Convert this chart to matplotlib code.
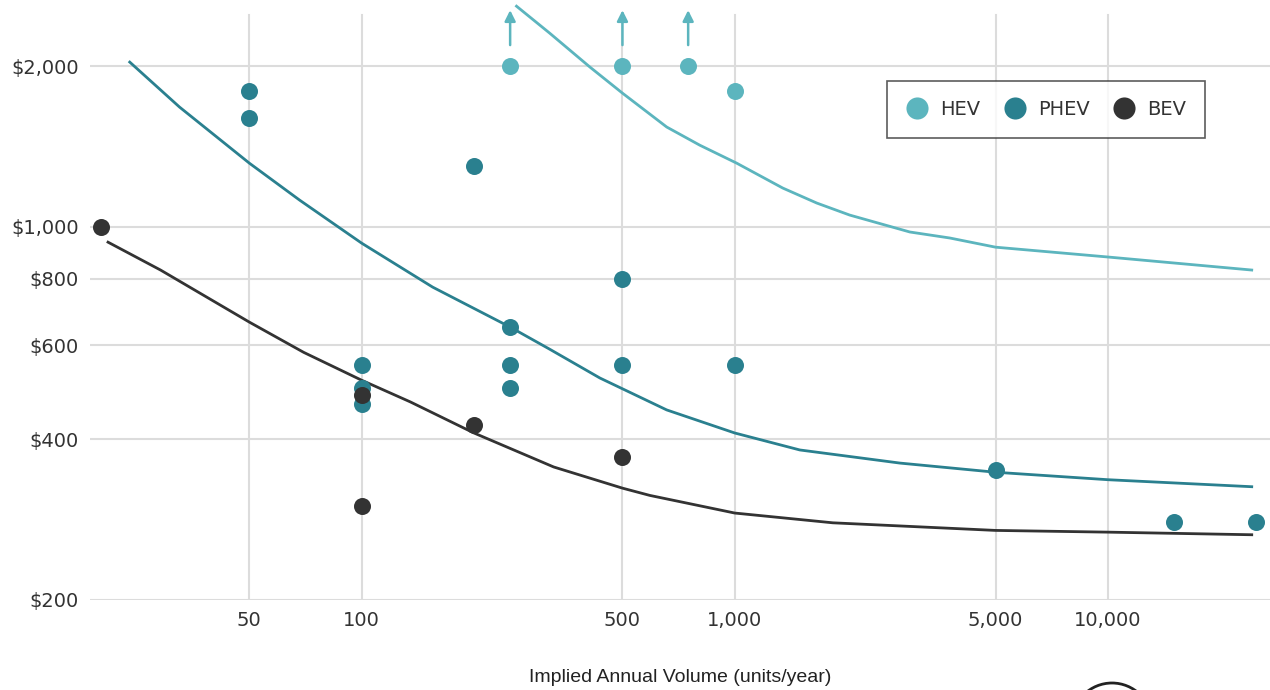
import matplotlib
matplotlib.use('agg')
import matplotlib.pyplot as plt
from matplotlib.ticker import FixedLocator, NullLocator
from matplotlib.patches import Ellipse

# scatter data (volume, cost per unit)
hev_x = [250, 500, 750, 1000]
hev_y = [2000, 2000, 2000, 1800]
hev_arrow_x = [250, 500, 750]

phev_x = [50, 50, 200, 100, 100, 100, 250, 250, 250, 500, 500, 1000, 5000, 15000, 25000]
phev_y = [1800, 1600, 1300, 550, 500, 465, 650, 550, 500, 800, 550, 550, 350, 280, 280]

bev_x = [20, 100, 100, 200, 500]
bev_y = [1000, 484, 300, 425, 371]

# fitted curves
hev_fit_x = [260, 319, 409, 500, 657, 806, 1012, 1345, 1659, 2033, 2946, 3770, 5000, 10000, 24300]
hev_fit_y = [2590, 2306, 1992, 1780, 1538, 1422, 1316, 1182, 1108, 1052, 978, 953, 916, 878, 830]

phev_fit_x = [23.9, 32.5, 50, 68.2, 100, 155, 250, 319, 435, 657, 1000, 1494, 2770, 5000, 10000, 24300]
phev_fit_y = [2035, 1676, 1316, 1122, 932, 771, 649, 590, 521, 454, 411, 382, 361, 347, 336, 326]

bev_fit_x = [20.9, 28.9, 50, 69.9, 100, 135, 200, 327, 500, 592, 1000, 1832, 5000, 10000, 24300]
bev_fit_y = [936, 830, 663, 582, 516, 470, 411, 355, 324, 314, 291, 279, 270, 268, 265]

x_ticks = [50, 100, 500, 1000, 5000, 10000]
x_labels = ["50", "100", "500", "1,000", "5,000", "10,000"]
y_ticks = [200, 400, 600, 800, 1000, 2000]
y_labels = ["$200", "$400", "$600", "$800", "$1,000", "$2,000"]

c_hev = "#5cb5be"
c_phev = "#2a808f"
c_bev = "#333333"
grid_c = "#dcdcdc"

fig = plt.figure(figsize=(12.7, 6.9), dpi=100)
ax = fig.add_axes([90 / 1270, 90 / 690, 1180 / 1270, 600 / 690])
ax.set_xscale('log')
ax.set_yscale('log')
ax.set_xlim(18.7, 27200)
ax.set_ylim(200, 2660)

for s in ax.spines.values():
    s.set_visible(False)

# grid lines (vertical ones stop a bit below the top)
for yv in y_ticks:
    ax.axhline(yv, color=grid_c, lw=1.5, zorder=0)
for xv in x_ticks:
    ax.axvline(xv, ymin=0, ymax=585 / 600, color=grid_c, lw=1.5, zorder=0)

ax.xaxis.set_major_locator(FixedLocator(x_ticks))
ax.xaxis.set_minor_locator(NullLocator())
ax.set_xticklabels(x_labels)
ax.yaxis.set_major_locator(FixedLocator(y_ticks))
ax.yaxis.set_minor_locator(NullLocator())
ax.set_yticklabels(y_labels)
ax.tick_params(length=0, labelsize=14, labelcolor="#333333")
ax.tick_params(axis='x', pad=8)
ax.tick_params(axis='y', pad=8)
for lab in ax.get_xticklabels() + ax.get_yticklabels():
    lab.set_family('DejaVu Sans')

ax.plot(hev_fit_x, hev_fit_y, color=c_hev, lw=2, zorder=2, clip_on=False)
ax.plot(phev_fit_x, phev_fit_y, color=c_phev, lw=2, zorder=2, clip_on=False)
ax.plot(bev_fit_x, bev_fit_y, color=c_bev, lw=2, zorder=2, clip_on=False)

ax.scatter(hev_x, hev_y, s=150, color=c_hev, zorder=3, label="HEV", linewidths=0)
ax.scatter(phev_x, phev_y, s=150, color=c_phev, zorder=3, label="PHEV", linewidths=0)
ax.scatter(bev_x, bev_y, s=150, color=c_bev, zorder=4, label="BEV", linewidths=0, clip_on=False)

for xa in hev_arrow_x:
    ax.annotate("", xy=(xa, 2546), xytext=(xa, 2190),
                arrowprops=dict(arrowstyle="-|>", color=c_hev, lw=1.8,
                                mutation_scale=16, shrinkA=0, shrinkB=0),
                annotation_clip=False)

ax.set_xlabel("Implied Annual Volume (units/year)", fontsize=14,
              family='Liberation Sans', color="#222222", labelpad=28)

leg = ax.legend(loc='upper left', bbox_to_anchor=(887 / 1270, 1 - 81 / 690),
                bbox_transform=fig.transFigure, borderaxespad=0, ncol=3,
                frameon=True, fancybox=False, fontsize=14, handletextpad=0.6,
                columnspacing=1.15, borderpad=0.95, handlelength=1.2,
                handleheight=1.1, markerscale=1.3)
leg.get_frame().set_edgecolor("#333333")
leg.get_frame().set_linewidth(1.2)
for t in leg.get_texts():
    t.set_color("#333333")

# partial logo circle at bottom edge
fig.patches.append(Ellipse((1112 / 1270, 1 - 723 / 690), 80 / 1270, 80 / 690,
                           transform=fig.transFigure, fill=False,
                           edgecolor="#222222", lw=2))

fig.savefig("out.png", dpi=100)
